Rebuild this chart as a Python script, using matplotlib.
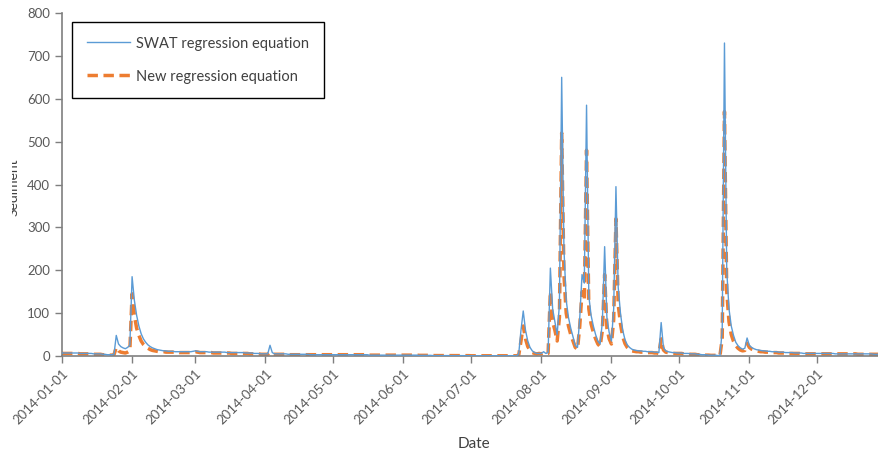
import matplotlib
matplotlib.use("Agg")
import matplotlib.pyplot as plt
import matplotlib.dates as mdates
from matplotlib.transforms import Bbox, TransformedBbox
import numpy as np
import pandas as pd

# ---------------- data (daily values, 2014) ----------------
swat_jan = [7,7,7,7,7,7,7,7,6,6,6,6,6,6,5,5,5,5,4,4,3,3,3,4,48,28,22,19,17,20,25]
swat_feb = [185,130,95,70,52,40,32,26,22,19,17,15,14,13,12,12,11,11,11,10,10,10,10,10,10,10,10,11]
swat_mar = [12,11,10,10,10,10,9,9,9,9,9,9,9,9,8,8,8,8,8,8,8,8,7,7,7,7,6,6,6,5,5]
swat_apr = [5,5,25,8,5,5,5,5,5,5,4,4,4,4,4,4,4,4,4,4,3,3,3,3,3,3,3,3,3,3]
swat_may = [3,3,3,3,3,3,3,3,3,3,3,3,3,3,3,3,2,2,2,2,2,2,2,2,2,2,2,2,2,2,2]
swat_jun = [2,2,2,2,2,2,2,1.5,1.5,1.5,1.5,1.5,1.5,1,1,1,1,1,1,1,1,1,1,1,1,0.8,0.8,0.8,0.8,0.8]
swat_jul = [0.5,0.5,0.5,0.5,0.5,0.5,0.5,0.5,0.5,0.5,0.5,0.5,0.5,0.5,0.5,0.5,0.5,0.5,0.5,0.5,0.5,
            5,60,105,60,35,20,12,8,6,6]
swat_aug = [6,10,6,8,205,110,80,50,120,650,250,130,90,65,45,25,20,90,190,170,585,140,95,70,50,35,28,80,255,90,55]
swat_sep = [35,110,395,160,100,60,38,26,20,16,14,13,12,12,11,11,10,10,10,9,9,8,78,20,12,10,9,8,8,7]
swat_oct = [7,7,6,6,6,5,5,5,4,4,3,3,3,2,2,2,2,1,1,60,730,200,110,70,48,32,24,19,16,18,42]
swat_nov = [25,20,17,15,14,13,12,12,11,11,10,10,10,9,9,9,8,8,8,8,7,7,7,7,6,6,6,6,6,6]
swat_dec = [6,6,6,6,6,6,6,6,5,5,5,5,5,5,5,5,5,5,5,5,5,5,5,5,5,4,4,4,4,4,4]

new_jan = [6,6,6,6,6,6,6,6,5,5,5,5,5,5,4,4,4,4,3,3,2,2,2,3,20,12,9,8,7,9,12]
new_feb = [145,95,65,48,35,27,22,18,15,13,12,11,10,10,10,9,9,9,9,9,9,8,8,8,8,8,8,9]
new_mar = [10,9,8,8,8,8,8,8,7,7,7,7,7,7,7,7,6,6,6,6,6,6,6,6,5,5,5,5,5,4,4]
new_apr = [4,4,8,5,4,4,4,4,4,4,3,3,3,3,3,3,3,3,3,3,3,3,3,3,3,3,3,3,3,3]
new_may = [3,3,3,3,3,3,3,3,3,3,3,3,3,3,3,3,2,2,2,2,2,2,2,2,2,2,2,2,2,2,2]
new_jun = [2,2,2,2,2,2,2,1.5,1.5,1.5,1.5,1.5,1.5,1,1,1,1,1,1,1,1,1,1,1,1,0.8,0.8,0.8,0.8,0.8]
new_jul = [0.5,0.5,0.5,0.5,0.5,0.5,0.5,0.5,0.5,0.5,0.5,0.5,0.5,0.5,0.5,0.5,0.5,0.5,0.5,0.5,0.5,
           2,35,70,40,22,13,8,6,5,6]
new_aug = [5,7,5,6,150,80,60,35,90,520,190,100,70,50,35,20,16,70,150,130,480,110,75,55,40,28,22,60,190,65,40]
new_sep = [28,85,320,120,75,45,29,20,15,12,11,10,10,9,9,9,8,8,8,7,7,6,40,14,9,8,7,6,6,6]
new_oct = [6,6,5,5,5,4,4,4,3,3,2,2,2,2,1.5,1.5,1.5,1,1,40,570,150,80,50,34,24,18,14,12,13,30]
new_nov = [20,16,14,12,11,10,10,9,9,9,8,8,8,7,7,7,7,6,6,6,6,6,6,5,5,5,5,5,5,5]
new_dec = [5,5,5,5,5,5,5,5,5,5,5,5,5,5,5,5,5,5,4,4,4,4,4,4,4,4,4,4,4,4,4]

swat = (swat_jan + swat_feb + swat_mar + swat_apr + swat_may + swat_jun +
        swat_jul + swat_aug + swat_sep + swat_oct + swat_nov + swat_dec)
new = (new_jan + new_feb + new_mar + new_apr + new_may + new_jun +
       new_jul + new_aug + new_sep + new_oct + new_nov + new_dec)
dates = pd.date_range("2014-01-01", "2014-12-31", freq="D")

tick_dates = pd.date_range("2014-01-01", "2014-12-01", freq="MS")
tick_labels = [d.strftime("%Y-%m-%d") for d in tick_dates]
y_ticks = [0, 100, 200, 300, 400, 500, 600, 700, 800]

# ---------------- plot ----------------
FONT = ["Lato", "DejaVu Sans"]
plt.rcParams["font.family"] = FONT
W, H = 879, 455
fig = plt.figure(figsize=(W / 100, H / 100), dpi=100)
ax_left, ax_right, ax_top, ax_bot = 62, 885, 13, 356
ax = fig.add_axes([ax_left / W, 1 - ax_bot / H, (ax_right - ax_left) / W, (ax_bot - ax_top) / H])

blue = "#5B9BD5"
orange = "#ED7D31"
ax.plot(dates, new, color=orange, lw=2.5, ls=(0, (3.0, 1.6)), label="New regression equation", zorder=2)
ax.plot(dates, swat, color=blue, lw=1.0, label="SWAT regression equation", zorder=3)

ax.set_xlim(pd.Timestamp("2014-01-01"), pd.Timestamp("2014-12-31"))
ax.set_ylim(0, 800)
ax.set_yticks(y_ticks)
ax.set_xticks(tick_dates)
ax.set_xticklabels(tick_labels, rotation=45, ha="right", rotation_mode="anchor")

for s in ["top", "right"]:
    ax.spines[s].set_visible(False)
for s in ["left", "bottom"]:
    ax.spines[s].set_color("#7f7f7f")
    ax.spines[s].set_linewidth(1.2)
ax.tick_params(axis="both", direction="out", length=5, width=1, color="#7f7f7f",
               labelcolor="#595959", labelsize=9.5)
ax.tick_params(axis="x", pad=3)

ax.set_xlabel("Date", fontsize=11, color="#404040", labelpad=8)

# y label (partly cut in the reference)
yl = fig.text(13.5 / W, 1 - 187 / H, "Sediment", rotation=90, ha="center", va="center",
              fontsize=10, color="#404040")
yl.set_clip_box(TransformedBbox(Bbox([[12.5 / W, 0], [1, 1]]), fig.transFigure))
yl.set_clip_on(True)

handles, labels = ax.get_legend_handles_labels()
leg = ax.legend(handles[::-1], labels[::-1], loc="upper left",
                bbox_to_anchor=(72 / W, 1 - 22 / H), bbox_transform=fig.transFigure,
                borderaxespad=0, fancybox=False, framealpha=1, edgecolor="#000000",
                fontsize=10.5, handlelength=3.0, handletextpad=0.4, labelspacing=1.3,
                borderpad=1.0)
leg.get_frame().set_linewidth(1.0)
for t in leg.get_texts():
    t.set_color("#404040")

fig.savefig("out.png", dpi=100)
